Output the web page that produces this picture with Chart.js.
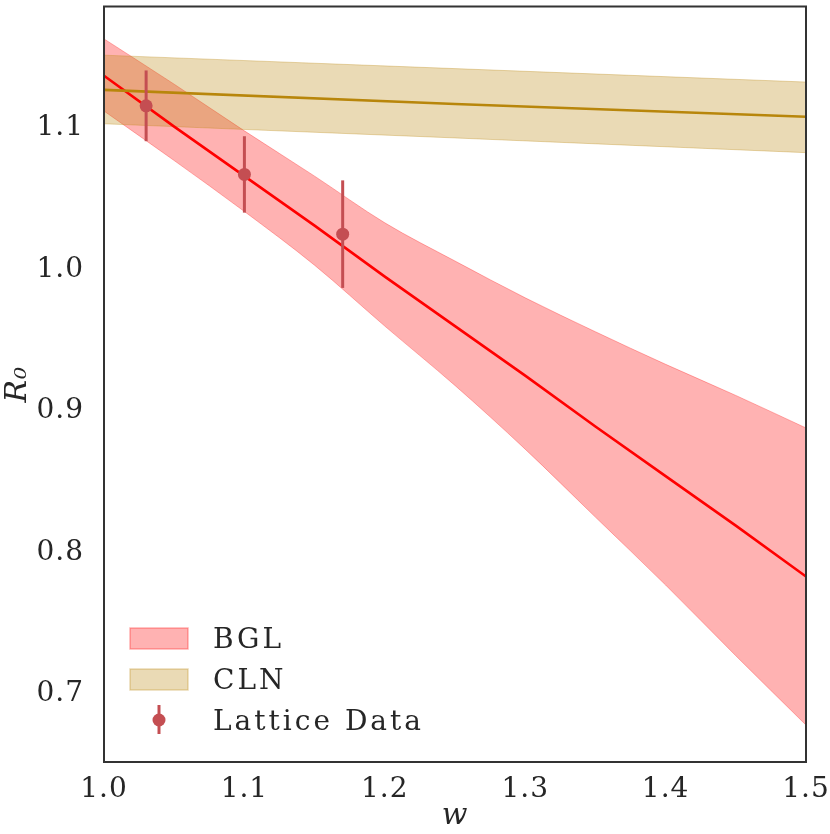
<!DOCTYPE html>
<html>
<head>
<meta charset="utf-8">
<script src="https://cdn.jsdelivr.net/npm/chart.js@4.4.0/dist/chart.umd.min.js"></script>
<style>
  html, body { margin: 0; padding: 0; background: #fff; }
  canvas { display: block; }
</style>
</head>
<body>
<canvas id="r0Chart" width="830" height="834"></canvas>
<script>
// tick positions
const xTicks = [1.0, 1.1, 1.2, 1.3, 1.4, 1.5];
const yTicks = [0.7, 0.8, 0.9, 1.0, 1.1];

// BGL fit: central curve and 1-sigma band
const bglW = [1.00, 1.05, 1.10, 1.15, 1.20, 1.25, 1.30, 1.35, 1.40, 1.45, 1.50];
const bglCentral = [1.137, 1.101, 1.066, 1.031, 0.995, 0.960, 0.925, 0.889, 0.854, 0.819, 0.783];
const bglUpper = [1.163, 1.131, 1.098, 1.066, 1.033, 1.006, 0.980, 0.956, 0.933, 0.911, 0.888];
const bglLower = [1.112, 1.077, 1.041, 1.003, 0.960, 0.918, 0.873, 0.825, 0.777, 0.727, 0.678];

// CLN fit
const clnW = [1.00, 1.25, 1.50];
const clnCentral = [1.127, 1.117, 1.108];
const clnUpper = [1.1515, 1.142, 1.1325];
const clnLower = [1.103, 1.093, 1.0826];

// lattice data points with errors
const latticeW = [1.03, 1.10, 1.17];
const latticeR = [1.1157, 1.0672, 1.025];
const latticeErr = [0.025, 0.027, 0.038];

const FONT = "'DejaVu Serif', serif";
const TEXT = '#262626';
const RED_BAND = 'rgba(255, 0, 0, 0.3)';
const GOLD_BAND = 'rgba(184, 134, 11, 0.3)';
const DOT = '#c44e52';

function pts(xs, ys) {
    return xs.map(function (x, i) { return { x: x, y: ys[i] }; });
}

// a little extra tracking so the serif text is closer to the original width
const tracking = {
    id: 'tracking',
    beforeDraw: function (chart) { chart.ctx.letterSpacing = '1px'; }
};

// vertical error bars, drawn just before the lattice markers
const errorBars = {
    id: 'errorBars',
    beforeDatasetDraw: function (chart, args) {
        if (chart.data.datasets[args.index].label !== 'Lattice Data') return;
        const ctx = chart.ctx;
        const xs = chart.scales.x, ys = chart.scales.y;
        ctx.save();
        ctx.strokeStyle = DOT;
        ctx.lineWidth = 3;
        for (let i = 0; i < latticeW.length; i++) {
            const px = xs.getPixelForValue(latticeW[i]);
            ctx.beginPath();
            ctx.moveTo(px, ys.getPixelForValue(latticeR[i] + latticeErr[i]));
            ctx.lineTo(px, ys.getPixelForValue(latticeR[i] - latticeErr[i]));
            ctx.stroke();
        }
        ctx.restore();
    }
};

// box around the plot area
const frame = {
    id: 'frame',
    afterDraw: function (chart) {
        const a = chart.chartArea, ctx = chart.ctx;
        ctx.save();
        ctx.strokeStyle = '#333333';
        ctx.lineWidth = 2;
        ctx.strokeRect(a.left, a.top, a.right - a.left, a.bottom - a.top);
        ctx.restore();
    }
};

// matplotlib-like legend in the lower left corner
const cornerLegend = {
    id: 'cornerLegend',
    afterDraw: function (chart) {
        const ctx = chart.ctx, a = chart.chartArea;
        const ds = chart.data.datasets;
        const x0 = a.left + 26, textX = a.left + 109;
        const rows = [648, 689, 730];
        ctx.save();

        ctx.fillStyle = RED_BAND;
        ctx.fillRect(x0, rows[0] - 20, 58, 21);
        ctx.strokeStyle = RED_BAND;
        ctx.lineWidth = 1.5;
        ctx.strokeRect(x0, rows[0] - 20, 58, 21);

        ctx.fillStyle = GOLD_BAND;
        ctx.fillRect(x0, rows[1] - 20, 58, 21);
        ctx.strokeStyle = GOLD_BAND;
        ctx.strokeRect(x0, rows[1] - 20, 58, 21);

        ctx.strokeStyle = DOT;
        ctx.fillStyle = DOT;
        ctx.lineWidth = 3;
        ctx.beginPath();
        ctx.moveTo(x0 + 29, rows[2] - 25);
        ctx.lineTo(x0 + 29, rows[2] + 4);
        ctx.stroke();
        ctx.beginPath();
        ctx.arc(x0 + 29, rows[2] - 10, 6.5, 0, Math.PI * 2);
        ctx.fill();

        ctx.font = '28px ' + FONT;
        ctx.letterSpacing = '3px';
        ctx.textBaseline = 'alphabetic';
        ctx.textAlign = 'left';
        ctx.fillStyle = TEXT;
        ctx.fillText(ds[0].label, textX, rows[0]);
        ctx.fillText(ds[3].label, textX, rows[1]);
        ctx.fillText(ds[6].label, textX, rows[2]);
        ctx.restore();
    }
};

function noScalePadding(s) {
    s.paddingTop = 0;
    s.paddingBottom = 0;
    s.paddingLeft = 0;
    s.paddingRight = 0;
}

const ctx = document.getElementById('r0Chart').getContext('2d');

new Chart(ctx, {
    type: 'line',
    data: {
        datasets: [
            {
                label: 'BGL',
                data: pts(bglW, bglUpper),
                borderColor: RED_BAND,
                borderWidth: 1,
                backgroundColor: RED_BAND,
                fill: '+1',
                pointRadius: 0,
                cubicInterpolationMode: 'monotone',
                order: 5
            },
            {
                label: 'BGL lower',
                data: pts(bglW, bglLower),
                borderColor: RED_BAND,
                borderWidth: 1,
                fill: false,
                pointRadius: 0,
                cubicInterpolationMode: 'monotone',
                order: 5
            },
            {
                label: 'BGL central',
                data: pts(bglW, bglCentral),
                borderColor: '#ff0000',
                borderWidth: 2.6,
                fill: false,
                pointRadius: 0,
                order: 2
            },
            {
                label: 'CLN',
                data: pts(clnW, clnUpper),
                borderColor: GOLD_BAND,
                borderWidth: 1,
                backgroundColor: GOLD_BAND,
                fill: '+1',
                pointRadius: 0,
                order: 4
            },
            {
                label: 'CLN lower',
                data: pts(clnW, clnLower),
                borderColor: GOLD_BAND,
                borderWidth: 1,
                fill: false,
                pointRadius: 0,
                order: 4
            },
            {
                label: 'CLN central',
                data: pts(clnW, clnCentral),
                borderColor: '#b8860b',
                borderWidth: 2.6,
                fill: false,
                pointRadius: 0,
                order: 1
            },
            {
                label: 'Lattice Data',
                data: pts(latticeW, latticeR),
                showLine: false,
                pointRadius: 6.5,
                pointBackgroundColor: DOT,
                pointBorderWidth: 0,
                order: 0
            }
        ]
    },
    options: {
        responsive: false,
        animation: false,
        layout: { padding: { top: 2, right: 24, left: 0, bottom: 0 } },
        scales: {
            x: {
                type: 'linear',
                min: 1.0,
                max: 1.5,
                grid: { display: false, drawTicks: false },
                border: { display: false },
                afterBuildTicks: function (s) { s.ticks = xTicks.map(function (v) { return { value: v }; }); },
                afterFit: function (s) { s.height = 72; noScalePadding(s); },
                ticks: {
                    padding: 11,
                    color: TEXT,
                    font: { family: FONT, size: 28 },
                    maxRotation: 0,
                    autoSkip: false,
                    callback: function (v) { return v.toFixed(1); }
                },
                title: {
                    display: true,
                    text: 'w',
                    color: TEXT,
                    font: { family: FONT, size: 30, style: 'italic' },
                    padding: 0
                }
            },
            y: {
                min: 0.6519,
                max: 1.1859,
                grid: { display: false, drawTicks: false },
                border: { display: false },
                afterBuildTicks: function (s) { s.ticks = yTicks.map(function (v) { return { value: v }; }); },
                afterFit: function (s) { s.width = 104; noScalePadding(s); },
                ticks: {
                    padding: 20,
                    color: TEXT,
                    font: { family: FONT, size: 28 },
                    callback: function (v) { return v.toFixed(1); }
                },
                title: {
                    display: true,
                    text: 'R\u2080',
                    color: TEXT,
                    font: { family: FONT, size: 30, style: 'italic' },
                    padding: 0
                }
            }
        },
        plugins: {
            legend: { display: false },
            tooltip: { enabled: false }
        }
    },
    plugins: [tracking, errorBars, frame, cornerLegend]
});
</script>
</body>
</html>
